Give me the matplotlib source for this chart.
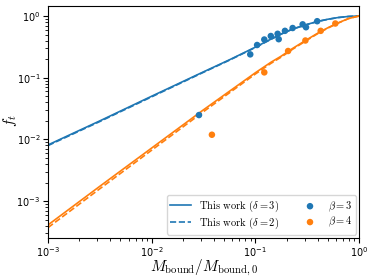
import numpy as np
import matplotlib
matplotlib.use("Agg")
import matplotlib.pyplot as plt
from matplotlib.font_manager import FontProperties

plt.rcParams['mathtext.fontset'] = 'cm'
plt.rcParams['axes.unicode_minus'] = False

# Model curves (log10 values)
curve_logx = [-3.0, -2.5, -2.0, -1.5, -1.25, -1.0, -0.85, -0.75, -0.64, -0.5, -0.4, -0.3, -0.2, -0.1, 0.0]
blue_d3_logy = [-2.09, -1.70, -1.30, -0.905, -0.71, -0.505, -0.375, -0.29, -0.21, -0.135, -0.088, -0.052, -0.024, -0.007, 0.0]
blue_d2_logy = [-2.10, -1.71, -1.31, -0.912, -0.716, -0.51, -0.379, -0.293, -0.212, -0.137, -0.089, -0.053, -0.025, -0.007, 0.0]
orange_d3_logy = [-3.387, -2.76, -2.14, -1.52, -1.22, -0.92, -0.75, -0.65, -0.525, -0.38, -0.28, -0.19, -0.11, -0.04, 0.0]
orange_d2_logy = [-3.43, -2.80, -2.175, -1.55, -1.245, -0.94, -0.768, -0.665, -0.538, -0.39, -0.287, -0.195, -0.114, -0.041, 0.0]

# Simulation points
beta3_x = [0.0286, 0.0893, 0.104, 0.122, 0.141, 0.164, 0.168, 0.193, 0.229, 0.286, 0.308, 0.395]
beta3_y = [0.0248, 0.239, 0.339, 0.416, 0.474, 0.515, 0.421, 0.575, 0.639, 0.733, 0.658, 0.824]
beta4_x = [0.0381, 0.122, 0.207, 0.304, 0.427, 0.591]
beta4_y = [0.0119, 0.122, 0.271, 0.401, 0.575, 0.756]

blue = '#1f77b4'
orange = '#ff7f0e'

fig = plt.figure(figsize=(3.73, 2.78), dpi=100)
ax = fig.add_axes([0.1287, 0.145, 0.9625 - 0.1287, 0.9795 - 0.145])

cx = 10 ** np.array(curve_logx)
l1, = ax.plot(cx, 10 ** np.array(blue_d3_logy), color=blue, lw=1.2, ls='-')
l2, = ax.plot(cx, 10 ** np.array(blue_d2_logy), color=blue, lw=1.2, ls='--')
ax.plot(cx, 10 ** np.array(orange_d3_logy), color=orange, lw=1.2, ls='-')
ax.plot(cx, 10 ** np.array(orange_d2_logy), color=orange, lw=1.2, ls='--')
s1 = ax.scatter(beta3_x, beta3_y, s=22, color=blue, zorder=3, edgecolors='none')
s2 = ax.scatter(beta4_x, beta4_y, s=22, color=orange, zorder=3, edgecolors='none')

ax.set_xscale('log')
ax.set_yscale('log')
ax.set_xlim(1e-3, 1)
ax.set_ylim(2.55e-4, 1.47)
ax.tick_params(labelsize=7, pad=2)

ax.set_xlabel(r'$M_{\rm bound}/M_{\rm bound,0}$', fontsize=11)
ax.set_ylabel(r'$f_t$', fontsize=11)
ax.xaxis.set_label_coords(0.502, -0.085)
ax.yaxis.set_label_coords(-0.093, 0.507)

prop = FontProperties(family='cmr10', size=7.5, math_fontfamily='cm')
ax.legend([l1, l2, s1, s2],
          [r'This work ($\delta=3$)', r'This work ($\delta=2$)', r'$\beta=3$', r'$\beta=4$'],
          ncol=2, loc='lower right', prop=prop, handlelength=2.0, columnspacing=2.0,
          borderpad=0.35, labelspacing=0.15, handletextpad=0.7, borderaxespad=0.3)

fig.savefig('out.png', dpi=100)
